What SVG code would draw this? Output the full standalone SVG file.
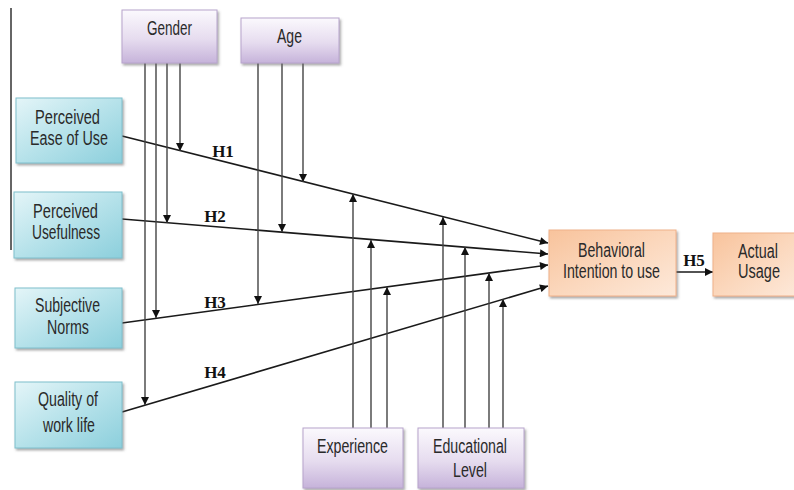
<svg xmlns="http://www.w3.org/2000/svg" width="794" height="490" viewBox="0 0 794 490">
<defs>
<linearGradient id="teal" x1="0" y1="0" x2="1" y2="1">
<stop offset="0" stop-color="#e4f5f8"/><stop offset="0.5" stop-color="#b6e2ea"/><stop offset="1" stop-color="#8ccfdc"/>
</linearGradient>
<linearGradient id="purple" x1="0" y1="0" x2="0" y2="1">
<stop offset="0" stop-color="#fbf9fd"/><stop offset="0.55" stop-color="#e6dcef"/><stop offset="1" stop-color="#c6b3da"/>
</linearGradient>
<linearGradient id="orange" x1="0" y1="0" x2="1" y2="1">
<stop offset="0" stop-color="#f8c39c"/><stop offset="0.5" stop-color="#fbd7bc"/><stop offset="1" stop-color="#fde9da"/>
</linearGradient>
<marker id="ah" viewBox="0 0 10 10" refX="10" refY="5" markerWidth="10" markerHeight="8" markerUnits="userSpaceOnUse" orient="auto">
<path d="M0,0 L10,5 L0,10 z" fill="#111"/>
</marker>
<filter id="sh" x="-10%" y="-10%" width="130%" height="130%">
<feDropShadow dx="1.5" dy="2" stdDeviation="1" flood-color="#666" flood-opacity="0.55"/>
</filter>
</defs>
<style>
.t{font-family:"Liberation Sans",Arial,sans-serif;font-size:20px;fill:#2a2a2a;text-anchor:middle}
.h{font-family:"Liberation Serif","Times New Roman",serif;font-size:17px;font-weight:bold;fill:#111;text-anchor:middle}
.bt{fill:url(#teal);stroke:#7fbfcc;stroke-width:1;filter:url(#sh)}
.bp{fill:url(#purple);stroke:#b7a4cc;stroke-width:1;filter:url(#sh)}
.bo{fill:url(#orange);stroke:#f0b189;stroke-width:1;filter:url(#sh)}
.d{stroke:#1a1a1a;stroke-width:1.6;fill:none}
.v{stroke:#444;stroke-width:1.4;fill:none}
</style>
<line x1="11" y1="8" x2="11" y2="250" stroke="#333" stroke-width="1.5"/>
<g id="connectors">
<line class="d" x1="122" y1="136" x2="548" y2="243" marker-end="url(#ah)"/>
<line class="d" x1="122" y1="219" x2="548" y2="254" marker-end="url(#ah)"/>
<line class="d" x1="122" y1="323" x2="548" y2="265" marker-end="url(#ah)"/>
<line class="d" x1="122" y1="412" x2="548" y2="286" marker-end="url(#ah)"/>
<line class="d" x1="676" y1="272" x2="713" y2="272" marker-end="url(#ah)"/>
<line class="v" x1="145" y1="63" x2="145" y2="405" marker-end="url(#ah)"/>
<line class="v" x1="156" y1="63" x2="156" y2="318" marker-end="url(#ah)"/>
<line class="v" x1="167" y1="63" x2="167" y2="223" marker-end="url(#ah)"/>
<line class="v" x1="180" y1="63" x2="180" y2="151" marker-end="url(#ah)"/>
<line class="v" x1="258" y1="63" x2="258" y2="304" marker-end="url(#ah)"/>
<line class="v" x1="282" y1="63" x2="282" y2="232" marker-end="url(#ah)"/>
<line class="v" x1="303" y1="63" x2="303" y2="182" marker-end="url(#ah)"/>
<line class="v" x1="353" y1="428" x2="353" y2="194" marker-end="url(#ah)"/>
<line class="v" x1="371" y1="428" x2="371" y2="240" marker-end="url(#ah)"/>
<line class="v" x1="387" y1="428" x2="387" y2="287" marker-end="url(#ah)"/>
<line class="v" x1="443" y1="428" x2="443" y2="217" marker-end="url(#ah)"/>
<line class="v" x1="465" y1="428" x2="465" y2="247" marker-end="url(#ah)"/>
<line class="v" x1="489" y1="428" x2="489" y2="273" marker-end="url(#ah)"/>
<line class="v" x1="503" y1="428" x2="503" y2="299" marker-end="url(#ah)"/>
<text class="h" x="223" y="157">H1</text>
<text class="h" x="215" y="222">H2</text>
<text class="h" x="215" y="308">H3</text>
<text class="h" x="215" y="378">H4</text>
<text class="h" x="694" y="266">H5</text>
</g>
<g id="gender">
<rect class="bp" x="122" y="10" width="95" height="53"/>
<text class="t" x="169.5" y="35" textLength="45" lengthAdjust="spacingAndGlyphs">Gender</text>
</g>
<g id="age">
<rect class="bp" x="241" y="18" width="98" height="45"/>
<text class="t" x="289.5" y="43" textLength="25" lengthAdjust="spacingAndGlyphs">Age</text>
</g>
<g id="peou">
<rect class="bt" x="16" y="98" width="106" height="65"/>
<text class="t" x="67.5" y="124" textLength="65" lengthAdjust="spacingAndGlyphs">Perceived</text>
<text class="t" x="69" y="145" textLength="78" lengthAdjust="spacingAndGlyphs">Ease of Use</text>
</g>
<g id="pu">
<rect class="bt" x="14" y="192" width="108" height="66"/>
<text class="t" x="65.5" y="218" textLength="65" lengthAdjust="spacingAndGlyphs">Perceived</text>
<text class="t" x="66" y="239" textLength="68" lengthAdjust="spacingAndGlyphs">Usefulness</text>
</g>
<g id="sn">
<rect class="bt" x="15" y="288" width="107" height="60"/>
<text class="t" x="67.5" y="312" textLength="65" lengthAdjust="spacingAndGlyphs">Subjective</text>
<text class="t" x="68" y="334" textLength="42" lengthAdjust="spacingAndGlyphs">Norms</text>
</g>
<g id="qwl">
<rect class="bt" x="15" y="382" width="107" height="66"/>
<text class="t" x="68" y="406" textLength="60" lengthAdjust="spacingAndGlyphs">Quality of</text>
<text class="t" x="69" y="432" textLength="52" lengthAdjust="spacingAndGlyphs">work life</text>
</g>
<g id="experience">
<rect class="bp" x="303" y="428" width="100" height="60"/>
<text class="t" x="352.5" y="453" textLength="71" lengthAdjust="spacingAndGlyphs">Experience</text>
</g>
<g id="education">
<rect class="bp" x="418" y="428" width="106" height="60"/>
<text class="t" x="470" y="453" textLength="74" lengthAdjust="spacingAndGlyphs">Educational</text>
<text class="t" x="470" y="477" textLength="34" lengthAdjust="spacingAndGlyphs">Level</text>
</g>
<g id="bi">
<rect class="bo" x="549" y="230" width="127" height="66"/>
<text class="t" x="611.5" y="257" textLength="67" lengthAdjust="spacingAndGlyphs">Behavioral</text>
<text class="t" x="611.5" y="278" textLength="97" lengthAdjust="spacingAndGlyphs">Intention to use</text>
</g>
<g id="usage">
<rect class="bo" x="713" y="233" width="85" height="63"/>
<text class="t" x="758" y="258" textLength="40" lengthAdjust="spacingAndGlyphs">Actual</text>
<text class="t" x="759" y="278" textLength="42" lengthAdjust="spacingAndGlyphs">Usage</text>
</g>
</svg>
